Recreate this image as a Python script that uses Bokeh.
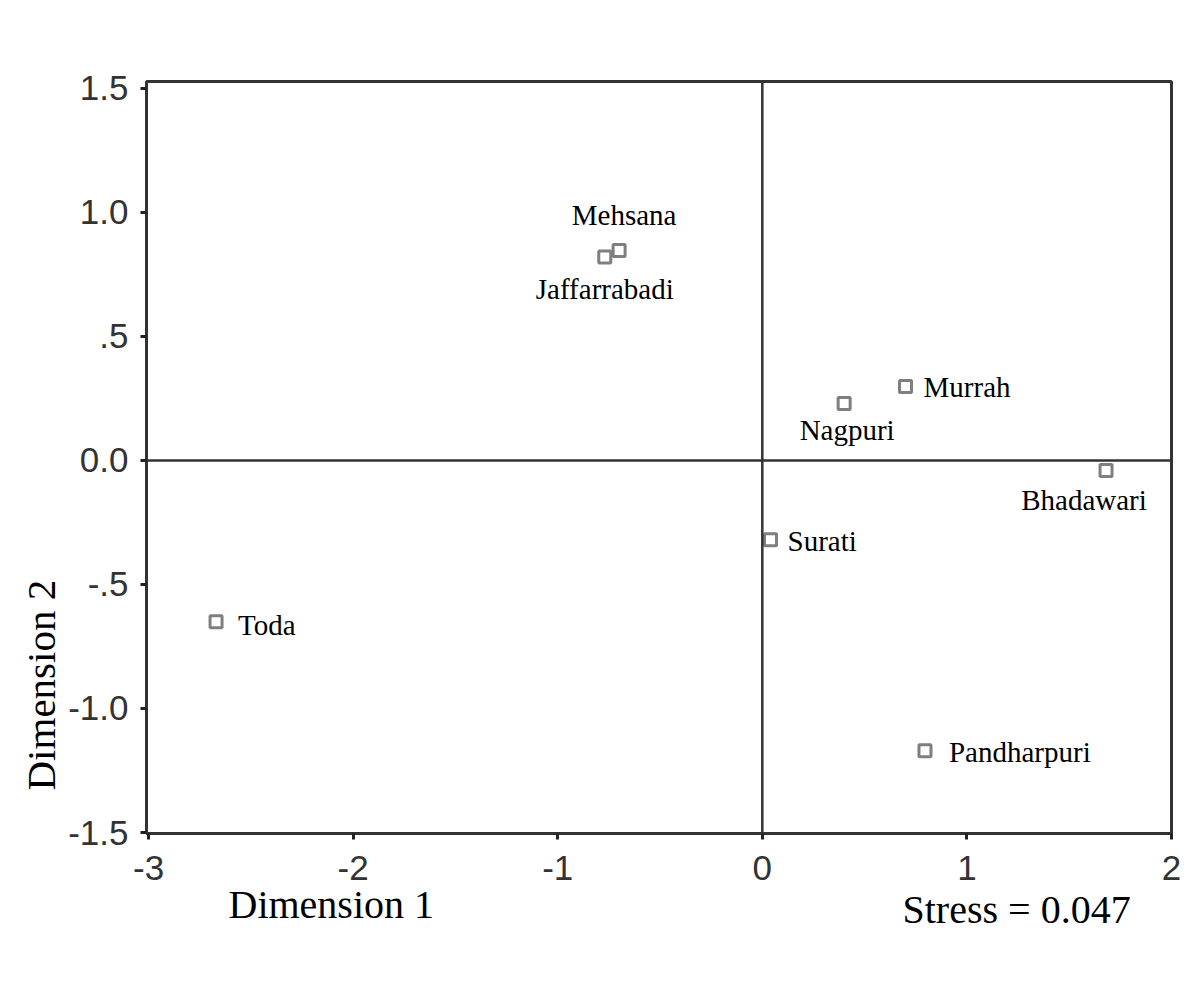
import math
from bokeh.plotting import figure
from bokeh.models import ColumnDataSource, Range1d, FixedTicker, Span, Title
from bokeh.core.properties import value
from bokeh.embed import file_html
from bokeh.resources import INLINE

# ---- data ----
breeds = ["Mehsana", "Jaffarrabadi", "Murrah", "Nagpuri", "Bhadawari", "Surati", "Toda", "Pandharpuri"]
dim1 = [-0.70, -0.77, 0.70, 0.40, 1.68, 0.04, -2.67, 0.795]
dim2 = [0.847, 0.82, 0.298, 0.23, -0.04, -0.32, -0.65, -1.17]
x_ticks = [-3, -2, -1, 0, 1, 2]
x_tick_labels = ["-3", "-2", "-1", "0", "1", "2"]
y_ticks = [-1.5, -1.0, -0.5, 0.0, 0.5, 1.0, 1.5]
y_tick_labels = ["-1.5", "-1.0", "-.5", "0.0", ".5", "1.0", "1.5"]
stress_text = "Stress = 0.047"
x_title = "Dimension 1"
y_title = "Dimension 2"

# ---- label placement (screen px offsets, style only) ----
label_style = {
    "Mehsana": (5, -35, "center"),
    "Jaffarrabadi": (0, 32, "center"),
    "Murrah": (18, 0, "left"),
    "Nagpuri": (3, 27, "center"),
    "Bhadawari": (-22, 30, "center"),
    "Surati": (17, 1, "left"),
    "Toda": (22, 3, "left"),
    "Pandharpuri": (24, 1, "left"),
}

W, H = 1184, 969
p = figure(width=W, height=H, output_backend="svg", toolbar_location=None,
           x_range=Range1d(-3.01, 2.0), y_range=Range1d(-1.504, 1.528))
p.min_border_left = 146
p.min_border_right = W - 1171
p.min_border_top = 81
p.min_border_bottom = H - 833
p.background_fill_color = "white"
p.border_fill_color = "white"
p.grid.visible = False
p.outline_line_color = "#333333"
p.outline_line_width = 3

for ax in (p.xaxis[0], p.yaxis[0]):
    ax.axis_line_color = "#333333"
    ax.axis_line_width = 3
    ax.major_tick_line_color = "#222222"
    ax.major_tick_line_width = 3
    ax.major_tick_out = 6
    ax.major_tick_in = 0
    ax.minor_tick_line_color = None
    ax.major_label_text_font = "Liberation Sans"
    ax.major_label_text_font_size = "35px"
    ax.major_label_text_color = "#333333"

p.xaxis.ticker = FixedTicker(ticks=x_ticks)
p.xaxis.major_label_overrides = {t: l for t, l in zip(x_ticks, x_tick_labels)}
p.xaxis.major_label_standoff = 16
p.yaxis.ticker = FixedTicker(ticks=y_ticks)
p.yaxis.major_label_overrides = {t: l for t, l in zip(y_ticks, y_tick_labels)}
p.yaxis.major_label_standoff = 12

p.add_layout(Span(location=0, dimension="height", line_color="#333333", line_width=2.5))
p.add_layout(Span(location=0, dimension="width", line_color="#333333", line_width=2.5))

src = ColumnDataSource(dict(x=dim1, y=dim2, name=breeds))
p.scatter("x", "y", source=src, marker="square", size=12, fill_color="white",
          line_color="#7f7f7f", line_width=3)

for align in ("left", "center"):
    xs, ys, ns, dxs, dys = [], [], [], [], []
    for b, xv, yv in zip(breeds, dim1, dim2):
        dx, dy, a = label_style[b]
        if a == align:
            xs.append(xv); ys.append(yv); ns.append(b); dxs.append(dx); dys.append(dy)
    s = ColumnDataSource(dict(x=xs, y=ys, name=ns, dx=dxs, dy=dys))
    p.text("x", "y", text="name", source=s, x_offset="dx", y_offset="dy",
           text_align=align, text_baseline="middle", text_font=value("Liberation Serif"),
           text_font_size="29px", text_color="black")

p.add_layout(Title(text=x_title, align="left", offset=82, text_font="Liberation Serif",
                   text_font_size="40px", text_font_style="normal", text_color="black",
                   standoff=-6), "below")
p.add_layout(Title(text=stress_text, align="left", offset=756, text_font="Liberation Serif",
                   text_font_size="40px", text_font_style="normal", text_color="black",
                   vertical_align="top", standoff=-74), "below")
p.add_layout(Title(text=y_title, align="left", offset=43, text_font="Liberation Serif",
                   text_font_size="41px", text_font_style="normal", text_color="black",
                   standoff=4), "left")

open("out.html", "w").write(file_html(p, INLINE))
